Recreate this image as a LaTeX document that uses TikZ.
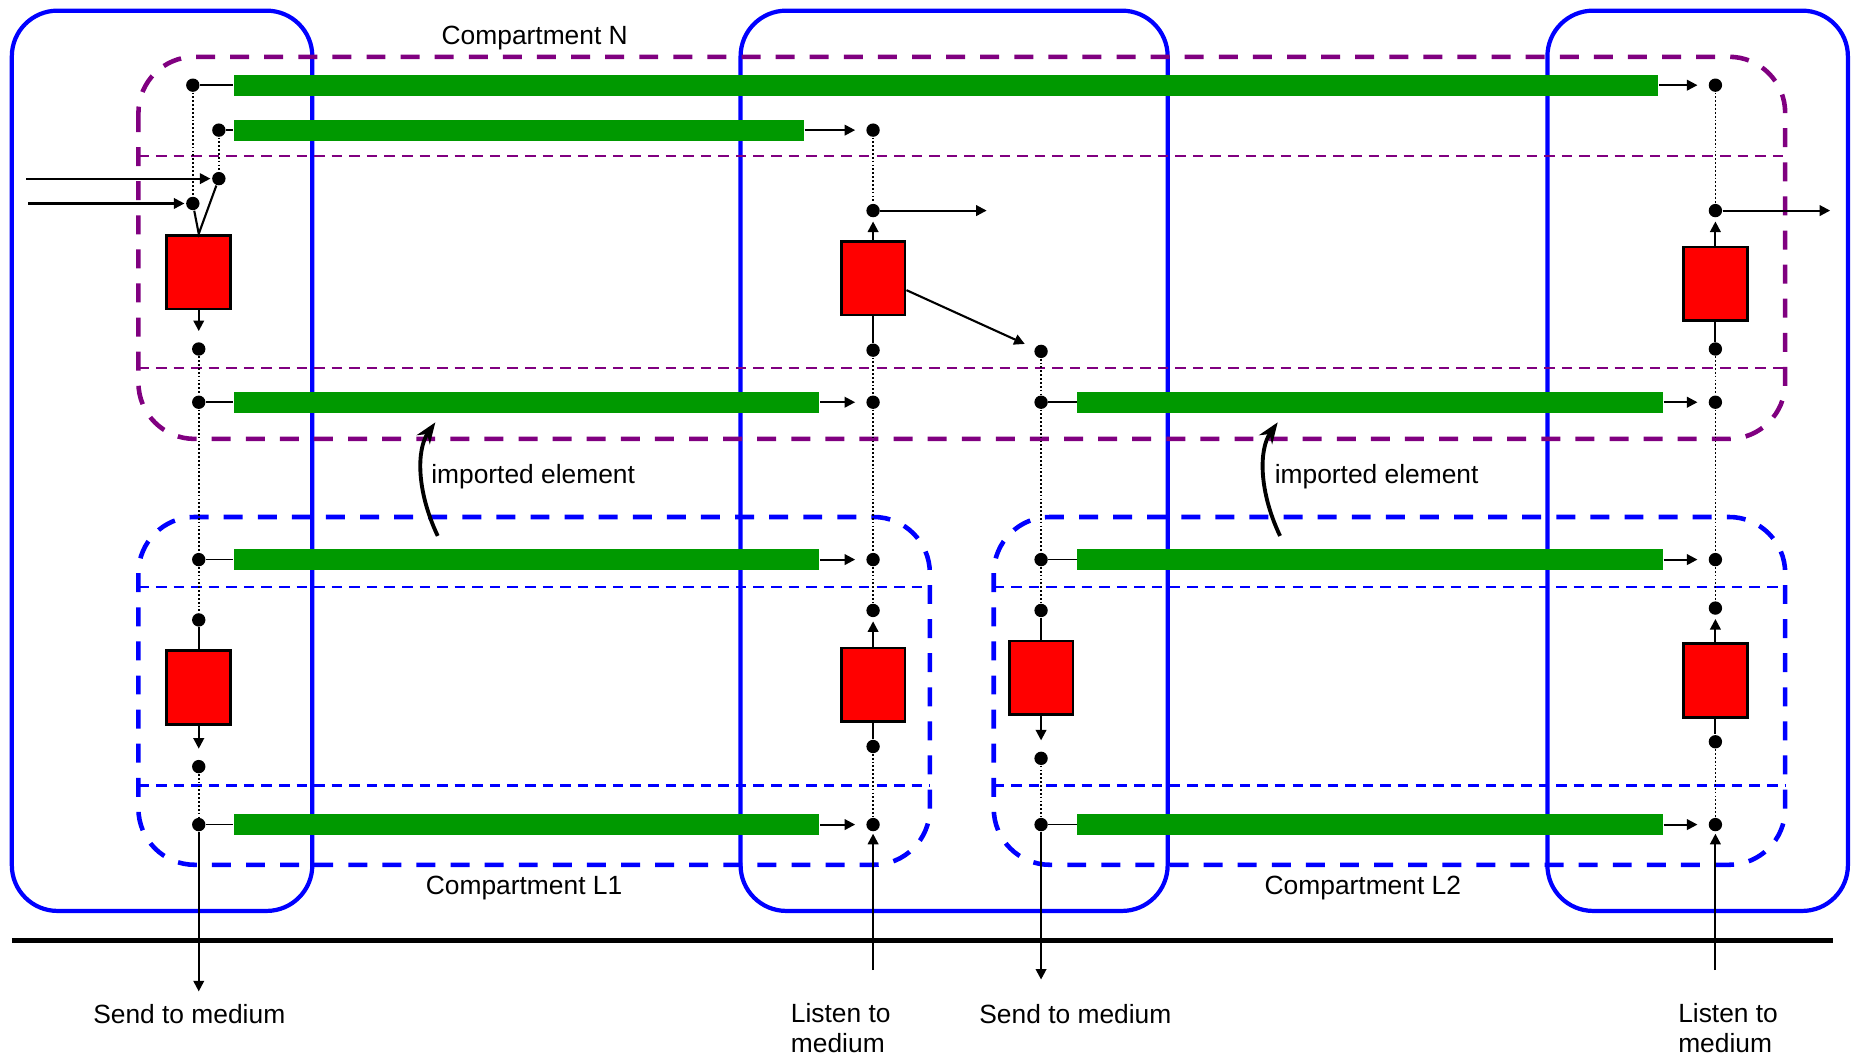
\documentclass[tikz,border=0pt]{standalone}
\usepackage{fontspec}
\setmainfont{Liberation Sans}
\usepackage{tikz}
\usetikzlibrary{arrows.meta, positioning, calc}

\definecolor{busgreen}{RGB}{0,153,0}
\definecolor{compN}{RGB}{128,0,128}

\tikzset{
    frame/.style={draw=blue, line width=1.2pt, rounded corners=13pt},
    comp/.style={line width=1.3pt, dash pattern=on 5.4pt off 4.3pt, rounded corners=16pt},
    lane/.style={line width=0.65pt, dash pattern=on 3pt off 2pt},
    bus/.style={rectangle, fill=busgreen, inner sep=0pt, minimum height=5.9pt, anchor=west},
    proc/.style={rectangle, draw=black, line width=0.8pt, fill=red, minimum width=18.2pt, minimum height=21pt, inner sep=0pt},
    junc/.style={circle, fill=black, inner sep=0pt, minimum size=3.8pt},
    link/.style={line width=0.5pt},
    arr/.style={line width=0.6pt, -{Triangle[length=3pt,width=3pt]}, shorten >=3pt},
    trace/.style={line width=0.45pt, dash pattern=on 0.5pt off 0.6pt},
    imp/.style={line width=1.1pt, -{Stealth[length=6pt,width=4.5pt]}},
    lbl/.style={font=\fontsize{7.5}{8.6}\selectfont, inner sep=0pt},
}

\begin{document}
\begin{tikzpicture}[x=0.1183mm, y=-0.1183mm]
    \useasboundingbox (0,0) rectangle (1568,894);

    % Node frames
    \foreach \a/\b in {10/264, 626/987, 1308/1562}
        \draw[frame] (\a,9) rectangle (\b,770);

    % Compartments
    \draw[comp, compN] (117,48) rectangle (1509,371);
    \foreach \y in {132,311}
        \draw[lane, compN] (117,\y) -- (1509,\y);
    \draw[comp, blue] (117,437) rectangle (786,731);
    \draw[comp, blue] (840,437) rectangle (1509,731);
    \foreach \y in {496,664} {
        \draw[lane, blue] (117,\y) -- (786,\y);
        \draw[lane, blue] (840,\y) -- (1509,\y);
    }
    \node[lbl] (lblN) at (452,32) {Compartment N};
    \node[lbl] (lblL1) at (443,751) {Compartment L1};
    \node[lbl] (lblL2) at (1152,751) {Compartment L2};

    % Medium
    \draw[line width=1.4pt] (10,795) -- (1549,795);

    % Compartment N: buses, processes, junctions
    \node[bus, minimum width=405.3pt] (busN1) at (197,72) {};
    \node[bus, minimum width=162.2pt] (busN2) at (197,110) {};
    \node[bus, minimum width=166.6pt] (busN3) at (197,340) {};
    \node[bus, minimum width=166.6pt] (busN4) at (910,340) {};

    \node[proc] (redNL) at (168,230) {};
    \node[proc] (redNM) at (738,235) {};
    \node[proc] (redNR) at (1450,240) {};

    \node[junc] (jN1) at (163,72) {};
    \node[junc] (jN2) at (1450,72) {};
    \node[junc] (jN3) at (185,110) {};
    \node[junc] (jN4) at (738,110) {};
    \node[junc] (jN5) at (185,151) {};
    \node[junc] (jN6) at (163,172) {};
    \node[junc] (jN7) at (168,295) {};
    \node[junc] (jN8) at (168,340) {};
    \node[junc] (jN9) at (738,340) {};
    \node[junc] (jN10) at (738,178) {};
    \node[junc] (jN11) at (738,296) {};
    \node[junc] (jN12) at (880,297) {};
    \node[junc] (jN13) at (880,340) {};
    \node[junc] (jN14) at (1450,340) {};
    \node[junc] (jN15) at (1450,178) {};
    \node[junc] (jN16) at (1450,295) {};

    \coordinate (inA) at (22,151);
    \coordinate (inB) at (24,172);
    \coordinate (outM) at (834,178);
    \coordinate (outR) at (1547,178);

    % Compartment L1
    \node[bus, minimum width=166.6pt] (busA1) at (197,473) {};
    \node[bus, minimum width=166.6pt] (busA2) at (197,697) {};
    \node[proc] (redAL) at (168,581) {};
    \node[proc] (redAR) at (738,579) {};
    \node[junc] (jA1) at (168,473) {};
    \node[junc] (jA2) at (738,473) {};
    \node[junc] (jA3) at (168,524) {};
    \node[junc] (jA4) at (168,648) {};
    \node[junc] (jA5) at (168,697) {};
    \node[junc] (jA6) at (738,697) {};
    \node[junc] (jA7) at (738,516) {};
    \node[junc] (jA8) at (738,631) {};
    \coordinate (sendA) at (168,838);
    \coordinate (lisA) at (738,820);

    % Compartment L2
    \node[bus, minimum width=166.6pt] (busB1) at (910,473) {};
    \node[bus, minimum width=166.6pt] (busB2) at (910,697) {};
    \node[proc] (redBL) at (880,573) {};
    \node[proc] (redBR) at (1450,575) {};
    \node[junc] (jB1) at (880,473) {};
    \node[junc] (jB2) at (1450,473) {};
    \node[junc] (jB3) at (880,516) {};
    \node[junc] (jB4) at (880,641) {};
    \node[junc] (jB5) at (880,697) {};
    \node[junc] (jB6) at (1450,697) {};
    \node[junc] (jB7) at (1450,514) {};
    \node[junc] (jB8) at (1450,627) {};
    \coordinate (sendB) at (880,828);
    \coordinate (lisB) at (1450,820);

    % Dotted traces
    \foreach \p/\q in {jN1/jN6, jN3/jN5, jN7/jN8, jN8/jA1, jA1/jA3, jA4/jA5,
                       jN4/jN10, jN11/jN9, jN9/jA2, jA2/jA7, jA8/jA6,
                       jN12/jN13, jN13/jB1, jB1/jB3, jB4/jB5,
                       jN2/jN15, jN16/jN14, jN14/jB2, jB2/jB7, jB8/jB6}
        \draw[trace] (\p) -- (\q);

    % Bus ends
    \foreach \j/\b/\k in {jN1/busN1/jN2, jN3/busN2/jN4, jN8/busN3/jN9, jN13/busN4/jN14,
                          jA1/busA1/jA2, jA5/busA2/jA6, jB1/busB1/jB2, jB5/busB2/jB6} {
        \draw[link] (\j) -- (\b.west);
        \draw[arr] (\b.east) -- (\k);
    }

    % Process links
    \draw[arr, shorten >=0.3pt] (inA) -- (jN5);
    \draw[arr, shorten >=0.3pt] (inB) -- (jN6);
    \draw[line width=0.6pt] (jN6) -- (redNL.north) -- (jN5);
    \draw[arr] (redNL.south) -- (jN7);

    \draw[arr, shorten >=1pt] (redNM.north) -- (jN10);
    \draw[arr, shorten >=0pt] (jN10) -- (outM);
    \draw[line width=0.6pt] (redNM.south) -- (jN11);
    \draw[arr] (redNM.-20) -- (jN12);

    \draw[arr, shorten >=1pt] (redNR.north) -- (jN15);
    \draw[arr, shorten >=0pt] (jN15) -- (outR);
    \draw[line width=0.6pt] (redNR.south) -- (jN16);

    \draw[line width=0.6pt] (jA3) -- (redAL.north);
    \draw[arr] (redAL.south) -- (jA4);
    \draw[arr, shorten >=1pt] (redAR.north) -- (jA7);
    \draw[line width=0.6pt] (redAR.south) -- (jA8);

    \draw[line width=0.6pt] (jB3) -- (redBL.north);
    \draw[arr] (redBL.south) -- (jB4);
    \draw[arr, shorten >=1pt] (redBR.north) -- (jB7);
    \draw[line width=0.6pt] (redBR.south) -- (jB8);

    % Medium access
    \draw[arr, shorten >=0pt] (jA5) -- (sendA);
    \draw[arr, shorten >=0.5pt] (lisA) -- (jA6);
    \draw[arr, shorten >=0pt] (jB5) -- (sendB);
    \draw[arr, shorten >=0.5pt] (lisB) -- (jB6);

    \node[lbl, anchor=base] (sendAl) at (160,865) {Send to medium};
    \node[lbl, anchor=base] (sendBl) at (909,865) {Send to medium};
    \node[lbl, anchor=base west, align=left] (lisAl) at (668,890) {Listen to\\medium};
    \node[lbl, anchor=base west, align=left] (lisBl) at (1418,890) {Listen to\\medium};

    % Imported elements
    \coordinate (impA0) at (370,453);
    \coordinate (impA1) at (368,357);
    \coordinate (impB0) at (1082,453);
    \coordinate (impB1) at (1080,357);
    \draw[imp] (impA0) .. controls (352,415) and (352,380) .. (impA1);
    \draw[imp] (impB0) .. controls (1064,415) and (1064,380) .. (impB1);
    \node[lbl, anchor=west] (impAl) at (364,403) {imported element};
    \node[lbl, anchor=west] (impBl) at (1077,403) {imported element};
\end{tikzpicture}
\end{document}
